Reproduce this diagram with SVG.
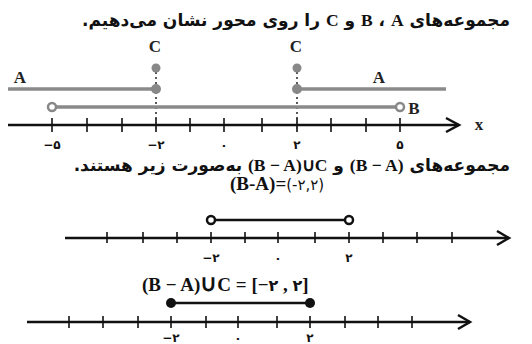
<svg xmlns="http://www.w3.org/2000/svg" width="532" height="344" viewBox="0 0 532 344">
<style>
.fa{font-family:"DejaVu Sans","Noto Sans",sans-serif;font-weight:bold;fill:#111;}
.lat{font-family:"Liberation Serif",serif;font-weight:bold;}
.lbl{font-family:"Liberation Serif",serif;font-weight:bold;fill:#222;font-size:17px;text-anchor:middle;}
.num{font-family:"DejaVu Sans",sans-serif;font-weight:bold;fill:#111;font-size:12px;text-anchor:middle;}
.axis{stroke:#111;stroke-width:2.5;fill:none;}
.tick{stroke:#111;stroke-width:1.6;}
.gray{stroke:#8a8a8a;stroke-width:3.5;fill:none;}
.dot{fill:#888;}
.vdot{stroke:#333;stroke-width:1.6;stroke-dasharray:2 3;}
</style>
<g id="title1"><text class="fa" x="510" y="26" font-size="17" direction="rtl">مجموعه‌های <tspan class="lat" font-size="17.5">⁦A⁩</tspan> ، <tspan class="lat" font-size="17.5">⁦B⁩</tspan> و <tspan class="lat" font-size="17.5">⁦C⁩</tspan> را روی محور نشان می‌دهیم.</text></g>
<g id="axis1">
<line class="axis" x1="8" y1="125" x2="459" y2="125"/>
<polyline class="axis" points="446,118 459,125 446,132" stroke-width="3"/>
<g class="tick"><line x1="52" y1="118" x2="52" y2="132"/><line x1="87" y1="118" x2="87" y2="132"/><line x1="122" y1="118" x2="122" y2="132"/><line x1="156" y1="118" x2="156" y2="132"/><line x1="190" y1="118" x2="190" y2="132"/><line x1="224" y1="118" x2="224" y2="132"/><line x1="262" y1="118" x2="262" y2="132"/><line x1="297" y1="118" x2="297" y2="132"/><line x1="331" y1="118" x2="331" y2="132"/><line x1="366" y1="118" x2="366" y2="132"/><line x1="400" y1="118" x2="400" y2="132"/></g>
<text class="num" x="52" y="149" font-size="13">−۵</text><text class="num" x="156" y="149" font-size="13">−۲</text><text class="num" x="224" y="149" font-size="13">۰</text><text class="num" x="297" y="149" font-size="13">۲</text><text class="num" x="400" y="149" font-size="13">۵</text>
<text class="lbl" x="479" y="130" font-size="18">x</text>
</g>
<g id="setA">
<line class="gray" x1="8" y1="89" x2="156" y2="89"/>
<line class="gray" x1="297" y1="89" x2="446" y2="89"/>
<text class="lbl" x="20" y="83" font-size="18">A</text><text class="lbl" x="379" y="83" font-size="18">A</text>
</g>
<g id="setC">
<line class="vdot" x1="156" y1="72" x2="156" y2="132"/>
<line class="vdot" x1="297" y1="72" x2="297" y2="132"/>
<circle class="dot" cx="156" cy="68" r="4.5"/><circle class="dot" cx="297" cy="68" r="4.5"/>
<circle class="dot" cx="156" cy="89" r="5"/><circle class="dot" cx="297" cy="89" r="5"/>
<text class="lbl" x="155" y="52">C</text><text class="lbl" x="296" y="52">C</text>
</g>
<g id="setB">
<line class="gray" x1="56" y1="107" x2="396" y2="107"/>
<circle cx="52" cy="107" r="4" fill="#fff" stroke="#888" stroke-width="2.5"/>
<circle cx="400" cy="107" r="4" fill="#fff" stroke="#888" stroke-width="2.5"/>
<text class="lbl" x="414" y="114" font-size="18">B</text>
</g>
<g id="title2"><text class="fa" x="510" y="171" font-size="17" direction="rtl">مجموعه‌های <tspan class="lat" font-size="17.5">⁦(B − A)⁩</tspan> و <tspan class="lat" font-size="17.5">⁦(B − A)∪C⁩</tspan> به‌صورت زیر هستند.</text></g>
<g id="diffBA">
<text x="230" y="190" font-family="Liberation Serif,serif" font-weight="bold" font-size="19" fill="#111">(B-A)=<tspan font-family="DejaVu Sans,sans-serif" font-weight="normal" font-size="15">(-۲,۲)</tspan></text>
<line class="axis" x1="65" y1="238" x2="509" y2="238"/>
<polyline class="axis" points="497,231 509,238 497,245" stroke-width="3"/>
<g class="tick"><line x1="107" y1="232" x2="107" y2="243"/><line x1="143" y1="232" x2="143" y2="243"/><line x1="177" y1="232" x2="177" y2="243"/><line x1="211" y1="232" x2="211" y2="243"/><line x1="245" y1="232" x2="245" y2="243"/><line x1="278" y1="232" x2="278" y2="243"/><line x1="315" y1="232" x2="315" y2="243"/><line x1="349" y1="232" x2="349" y2="243"/><line x1="383" y1="232" x2="383" y2="243"/><line x1="417" y1="232" x2="417" y2="243"/><line x1="452" y1="232" x2="452" y2="243"/></g>
<text class="num" x="211" y="262">−۲</text><text class="num" x="278" y="262">۰</text><text class="num" x="349" y="262">۲</text>
<line x1="215" y1="220" x2="345" y2="220" stroke="#111" stroke-width="2.5"/>
<circle cx="211" cy="220" r="4" fill="#fff" stroke="#111" stroke-width="2.5"/>
<circle cx="349" cy="220" r="4" fill="#fff" stroke="#111" stroke-width="2.5"/>
</g>
<g id="unionC">
<text x="142" y="291" font-family="Liberation Serif,serif" font-weight="bold" font-size="19" fill="#111">(B − A)<tspan font-size="23">∪</tspan>C = [−<tspan font-family="DejaVu Sans,sans-serif" font-size="16">۲</tspan> , <tspan font-family="DejaVu Sans,sans-serif" font-size="16">۲</tspan>]</text>
<line x1="171" y1="303" x2="310" y2="303" stroke="#111" stroke-width="2.5"/>
<circle cx="171" cy="303" r="5" fill="#111"/><circle cx="310" cy="303" r="5" fill="#111"/>
<line class="axis" x1="27" y1="322" x2="470" y2="322"/>
<polyline class="axis" points="458,315 470,322 458,329" stroke-width="3"/>
<g class="tick"><line x1="69" y1="316" x2="69" y2="328"/><line x1="103" y1="316" x2="103" y2="328"/><line x1="138" y1="316" x2="138" y2="328"/><line x1="171" y1="316" x2="171" y2="328"/><line x1="206" y1="316" x2="206" y2="328"/><line x1="238" y1="316" x2="238" y2="328"/><line x1="277" y1="316" x2="277" y2="328"/><line x1="310" y1="316" x2="310" y2="328"/><line x1="345" y1="316" x2="345" y2="328"/><line x1="378" y1="316" x2="378" y2="328"/><line x1="412" y1="316" x2="412" y2="328"/></g>
<text class="num" x="171" y="342">−۲</text><text class="num" x="238" y="342">۰</text><text class="num" x="310" y="342">۲</text>
</g>
</svg>
